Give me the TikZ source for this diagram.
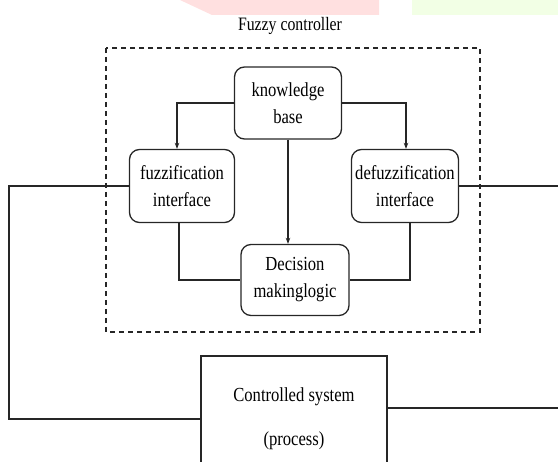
\documentclass[tikz,border=0pt]{standalone}
\usepackage{fontspec}
\usepackage{graphicx}
\setmainfont{Liberation Serif}
\usetikzlibrary{arrows.meta}
\newcommand{\stretchtxt}[1]{\scalebox{1}[1.2]{#1}}
\begin{document}
\begin{tikzpicture}[x=1pt,y=-1pt,
  blk/.style={draw=black!85, line width=1.3pt, rounded corners=10pt, inner sep=0pt, align=center, font=\fontsize{16.6}{27}\selectfont},
  sysbox/.style={draw=black!85, line width=1.3pt, inner sep=0pt, align=center, font=\fontsize{16.6}{44}\selectfont},
  wire/.style={draw=black!85, line width=1.3pt},
  arr/.style={wire, -{Stealth[length=6pt,width=4.5pt]}},
  ttl/.style={font=\fontsize{15.8}{18}\selectfont, inner sep=0pt}]
\useasboundingbox (0,0) rectangle (558,462);
\clip (0,0) rectangle (558,462);
% faint background blotches
\fill[red!12] (180,0) -- (379,0) -- (379,15) -- (212,15) -- cycle;
\fill[green!50!yellow!10] (412,0) -- (558,0) -- (558,15) -- (412,15) -- cycle;
% dashed frame
\draw[black!85, line width=1.5pt, dash pattern=on 5pt off 4pt] (106,48) rectangle (480,332);
\node[ttl] (title) at (290,26) {\stretchtxt{Fuzzy controller}};
% blocks
\node[blk, minimum width=107pt, minimum height=72pt] (kb) at (288,103) {\stretchtxt{knowledge}\\\stretchtxt{base}};
\node[blk, minimum width=105pt, minimum height=73pt] (fz) at (182,186) {\stretchtxt{fuzzification}\\\stretchtxt{interface}};
\node[blk, minimum width=107pt, minimum height=73pt] (dz) at (405,186) {\stretchtxt{defuzzification}\\\stretchtxt{interface}};
\node[blk, minimum width=108pt, minimum height=71pt] (dm) at (295,280) {\stretchtxt{Decision}\\\stretchtxt{makinglogic}};
\node[sysbox, minimum width=186pt, minimum height=126pt] (sys) at (294,419) {\stretchtxt{Controlled system}\\\stretchtxt{(process)}};
% free ends
\coordinate (inL) at (9,186);
\coordinate (fbB) at (9,419);
\coordinate (outR) at (558,186);
\coordinate (sysR) at (558,408);
% connectors
\draw[arr] (kb.west) -| ([xshift=-5pt]fz.north);
\draw[arr] (kb.east) -| ([xshift=1pt]dz.north);
\draw[arr] (kb.south) -- (kb.south |- dm.north);
\draw[wire] ([xshift=-3pt]fz.south) |- (dm.west);
\draw[wire] ([xshift=5pt]dz.south) |- (dm.east);
\draw[wire] (fz.west) -- (inL) -- (fbB) -- (sys.west);
\draw[wire] (dz.east) -- (outR);
\draw[wire] (sys.east |- sysR) -- (sysR);
\end{tikzpicture}
\end{document}
